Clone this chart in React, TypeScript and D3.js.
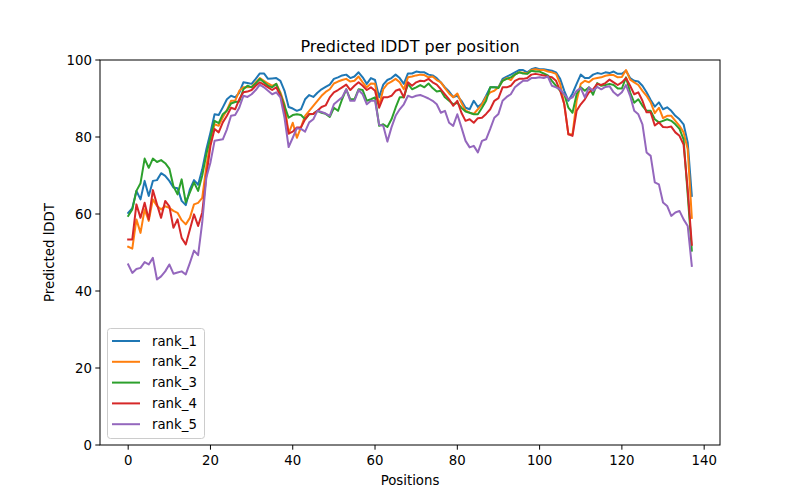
import React from "react";
import * as d3 from "d3";

// pLDDT per residue for each ranked model (x = position index)
const rank1 = [
  60.3, 61.5, 66, 63.8, 68.6, 64.7, 68.6, 68.8, 70.6, 69.9, 68.6, 66.9, 66.7, 63.4, 62.3, 66.4, 68.8, 67.6, 71.6, 76.8,
  81.2, 85.9, 85.7, 87.7, 89.8, 90.7, 90.3, 91.5, 94.2, 94, 93.8, 95.1, 96.5, 96.5, 95.1, 95.2, 95.3, 94.6, 92, 87.8,
  87.4, 86.8, 87.2, 89.8, 90.9, 90.4, 91.5, 92.4, 93, 93.6, 95.1, 95.5, 96, 96.2, 95.3, 95.7, 96.8, 95.5, 93.8, 95.3,
  94.8, 90.3, 93.6, 94.8, 95.3, 96.2, 95.3, 93.8, 96.5, 96.5, 97, 96.8, 96.8, 96.2, 96, 95.3, 94.2, 92.9, 91.8, 90.4,
  90.7, 89.4, 87.6, 87.2, 89.4, 87.8, 88.7, 90.7, 92.9, 92.9, 92.9, 95.1, 95.7, 96.2, 96.8, 97.4, 97.4, 96.8, 97.6, 97.9,
  97.6, 97.6, 97.4, 97.2, 96.8, 95.1, 92, 89.4, 91.3, 93.8, 96.2, 95.3, 95.3, 96.2, 96.6, 96.4, 96.8, 96.6, 97, 96.4,
  96.4, 97.2, 95.3, 94.6, 94.4, 93.3, 91.6, 89.6, 87.9, 89, 87.2, 87.7, 86.8, 85.5, 84.6, 83.3, 78.6, 64.7,
];
const rank2 = [
  51.5, 51, 58.6, 55.1, 61.2, 58.2, 63.8, 62.1, 61.2, 62, 61.6, 60.8, 60.3, 58.4, 57.3, 59, 62.5, 62.9, 64.2, 72.4,
  78.5, 83.3, 82.9, 85.1, 87, 89.4, 89.4, 92, 92.9, 92.9, 93, 94.2, 95.3, 94.6, 93.9, 93.3, 93.8, 91.6, 88.5, 80.9,
  83.7, 79.8, 82.5, 85.5, 86.8, 88.1, 89.4, 90.7, 91.7, 92.4, 93.9, 94.4, 94.8, 95.1, 94.4, 94.6, 95.7, 94.2, 92.9, 93.9,
  93.8, 88.1, 92.4, 93.8, 94.4, 95.1, 94.2, 92.4, 95.5, 95.7, 96, 96.2, 96.1, 95.5, 95.7, 94.8, 94.2, 92.7, 91.3, 90.3,
  91.3, 88.9, 86.9, 86.3, 86, 87.2, 88.5, 90.4, 91.6, 92, 92.9, 94.6, 95.3, 94.8, 96.2, 96.8, 96.7, 96.5, 97.4, 97.6,
  97.4, 97.4, 97, 96.8, 96.4, 93.8, 88.5, 80.7, 80.7, 89.4, 93.8, 94.6, 94.2, 95.1, 95.3, 95.5, 95.9, 96.1, 96.1, 95.5,
  95.6, 97.4, 94.9, 94.2, 93.5, 92, 90.7, 89, 86.2, 87.6, 84.9, 85.5, 85.5, 84.2, 82.9, 81.2, 76.8, 59,
];
const rank3 = [
  59.5, 61.2, 66, 68, 74.4, 72, 74.4, 73.5, 74, 73.2, 71.8, 67.2, 65.1, 69, 63, 65.6, 68.2, 66, 70, 75.5,
  79.9, 84.2, 83.6, 85.9, 86.8, 88.7, 89.1, 89.2, 92.4, 93.3, 92.9, 93.9, 95.1, 94.2, 93.3, 92.9, 93.8, 91.1, 88.1, 85,
  85.7, 85.9, 85.7, 84.6, 85.9, 86, 86.8, 86.3, 86, 85.2, 87.6, 86.8, 89.8, 92.4, 89.8, 89.8, 92.4, 92.2, 89.4, 89.8,
  90.3, 82.9, 83.3, 82.6, 84.6, 87.6, 90.3, 90.3, 93.8, 92.4, 92.9, 93.5, 92.9, 93.9, 92.7, 91.8, 92, 90.3, 89.4, 88.5,
  88.9, 87.6, 86.6, 86.3, 85.9, 85.9, 87.6, 89.4, 92.9, 92.9, 92.7, 94.6, 95.1, 95.5, 96.2, 96.8, 96.5, 96.4, 97.2, 97,
  97, 96.5, 96, 94.6, 93.3, 92, 91.1, 87.6, 86.3, 91.1, 92.9, 92, 92.9, 91, 94, 93.3, 93.5, 93.8, 93.5, 92.6,
  92.6, 95.5, 91.6, 88.9, 89.8, 88.1, 86.8, 86.8, 84.6, 83.8, 84.2, 84.6, 84.2, 83.3, 82.1, 79.4, 65, 50.5,
];
const rank4 = [
  53.4, 53.4, 62.5, 59, 62.9, 58.6, 66.2, 62.5, 59, 63.4, 62, 56.4, 58.6, 53.8, 52.1, 56, 59.9, 56.9, 60.4, 69.9,
  77.7, 82.1, 81.2, 83.8, 85.5, 87.6, 87.2, 89.8, 91.6, 91.8, 92.2, 93.3, 94.2, 93.6, 92.9, 92.2, 92.9, 90.7, 86.8, 80.9,
  81.4, 82.5, 82.5, 84.6, 86, 86, 86.8, 87.8, 88.2, 90.3, 91.6, 92.2, 92.9, 93.6, 92.2, 93.3, 94.2, 93.3, 92.2, 92.9,
  92, 87.6, 90.3, 90.3, 90.7, 92, 92.4, 90.3, 94.2, 93.3, 94.2, 94.6, 94.5, 95.1, 94.2, 93.6, 92.4, 91.1, 89.8, 88.1,
  89.4, 86.3, 84.2, 84.6, 83.7, 84.9, 85, 86, 87.2, 89.4, 90.1, 92.9, 92.9, 93.3, 94.6, 95.1, 95.1, 95.3, 96.2, 96.4,
  96.2, 96, 95.7, 95.5, 94.6, 92, 88.5, 80.7, 80.3, 86.8, 88.5, 89.8, 91.6, 92.4, 93.8, 93.5, 94, 94.9, 94.2, 93.5,
  94.2, 95.3, 93.3, 91.1, 91.6, 89.4, 86.4, 86.4, 83, 83.8, 82.6, 82.5, 82.7, 81.2, 80.3, 78, 66.4, 52,
];
const rank5 = [
  46.9, 44.7, 45.7, 46, 47.5, 46.9, 48.6, 43, 43.8, 45.1, 46.9, 44.5, 44.8, 45.1, 44.3, 47.3, 50.5, 49.3, 57.8, 69.5,
  73.4, 79, 79.2, 79.4, 82, 85.5, 85.7, 87.6, 90.7, 90.4, 91.1, 92.2, 93.6, 92.9, 92, 91.1, 91.6, 90.3, 85, 77.4,
  79.8, 82.3, 82.1, 81.4, 83.8, 84.6, 86.8, 86.5, 86.1, 85.5, 88.5, 89.4, 90.3, 92.4, 89.4, 89.4, 92.2, 91.1, 88.5, 89.4,
  89.4, 83.2, 82.9, 78.8, 82.5, 85.5, 87.2, 88.5, 90.7, 90.3, 90.7, 90.9, 90.5, 90, 89.4, 88.5, 86.3, 86.8, 83.7, 82.9,
  85.9, 82.5, 79, 77.3, 77.7, 76, 79, 79.4, 82.1, 85, 86, 89.4, 90.4, 91.1, 92.9, 93.8, 94.6, 94.6, 95.3, 95.3,
  95.5, 95.3, 95.7, 93.3, 92.9, 92.4, 91.1, 89.8, 90.3, 92, 92.7, 90.3, 92.9, 92, 93, 92.4, 93, 93.2, 91.6, 90.7,
  91.6, 93.5, 90.7, 86.8, 85.9, 83.3, 76, 75.1, 68.2, 67.7, 63, 62.1, 59.5, 60.4, 60.8, 58.6, 56.9, 46.5,
];

const seriesNames = ["rank_1", "rank_2", "rank_3", "rank_4", "rank_5"];
const seriesValues = [rank1, rank2, rank3, rank4, rank5];
const colors = ["#1f77b4", "#ff7f0e", "#2ca02c", "#d62728", "#9467bd"];
const xTicks = [0, 20, 40, 60, 80, 100, 120, 140];
const yTicks = [0, 20, 40, 60, 80, 100];

const W = 800;
const H = 500;
const margin = { left: 100, right: 80, top: 60, bottom: 55 };

export default function App() {
  const n = rank1.length - 1;
  const pad = n * 0.05;
  const x = d3.scaleLinear().domain([-pad, n + pad]).range([margin.left, W - margin.right]);
  const y = d3.scaleLinear().domain([0, 100]).range([H - margin.bottom, margin.top]);
  const line = d3
    .line<number>()
    .x((_, i) => x(i))
    .y((d) => y(d));

  const x0 = margin.left;
  const x1 = W - margin.right;
  const y0 = H - margin.bottom;
  const y1 = margin.top;
  const font = "DejaVu Sans, sans-serif";

  return (
    <svg width={W} height={H} style={{ display: "block", margin: -8 }} fontFamily={font}>
      <rect width={W} height={H} fill="white" />
      <text x={(x0 + x1) / 2} y={52} textAnchor="middle" fontSize={16}>
        Predicted lDDT per position
      </text>

      <g clipPath="url(#plot)">
        <clipPath id="plot">
          <rect x={x0} y={y1} width={x1 - x0} height={y0 - y1} />
        </clipPath>
        {seriesValues.map((vals, k) => (
          <path
            key={seriesNames[k]}
            d={line(vals) ?? ""}
            fill="none"
            stroke={colors[k]}
            strokeWidth={2}
            strokeLinejoin="round"
            strokeLinecap="square"
          />
        ))}
      </g>

      <rect x={x0} y={y1} width={x1 - x0} height={y0 - y1} fill="none" stroke="black" strokeWidth={1} />

      {xTicks.map((t) => (
        <g key={t} transform={`translate(${x(t)},${y0})`}>
          <line y2={4.7} stroke="black" />
          <text y={20} textAnchor="middle" fontSize={13.3}>
            {t}
          </text>
        </g>
      ))}
      {yTicks.map((t) => (
        <g key={t} transform={`translate(${x0},${y(t)})`}>
          <line x2={-4.7} stroke="black" />
          <text x={-8} dy="0.35em" textAnchor="end" fontSize={13.3}>
            {t}
          </text>
        </g>
      ))}

      <text x={(x0 + x1) / 2} y={485} textAnchor="middle" fontSize={13.3}>
        Positions
      </text>
      <text
        transform={`translate(54,${(y0 + y1) / 2}) rotate(-90)`}
        textAnchor="middle"
        fontSize={13.3}
      >
        Predicted lDDT
      </text>

      <g>
        <rect x={107.5} y={328.5} width={97} height={110} rx={3} fill="white" fillOpacity={0.8} stroke="#cccccc" />
        {seriesNames.map((name, k) => (
          <g key={name} transform={`translate(112,${341 + k * 20.8})`}>
            <line x1={0} x2={28} stroke={colors[k]} strokeWidth={2} />
            <text x={40} dy="0.35em" fontSize={13.3}>
              {name}
            </text>
          </g>
        ))}
      </g>
    </svg>
  );
}
